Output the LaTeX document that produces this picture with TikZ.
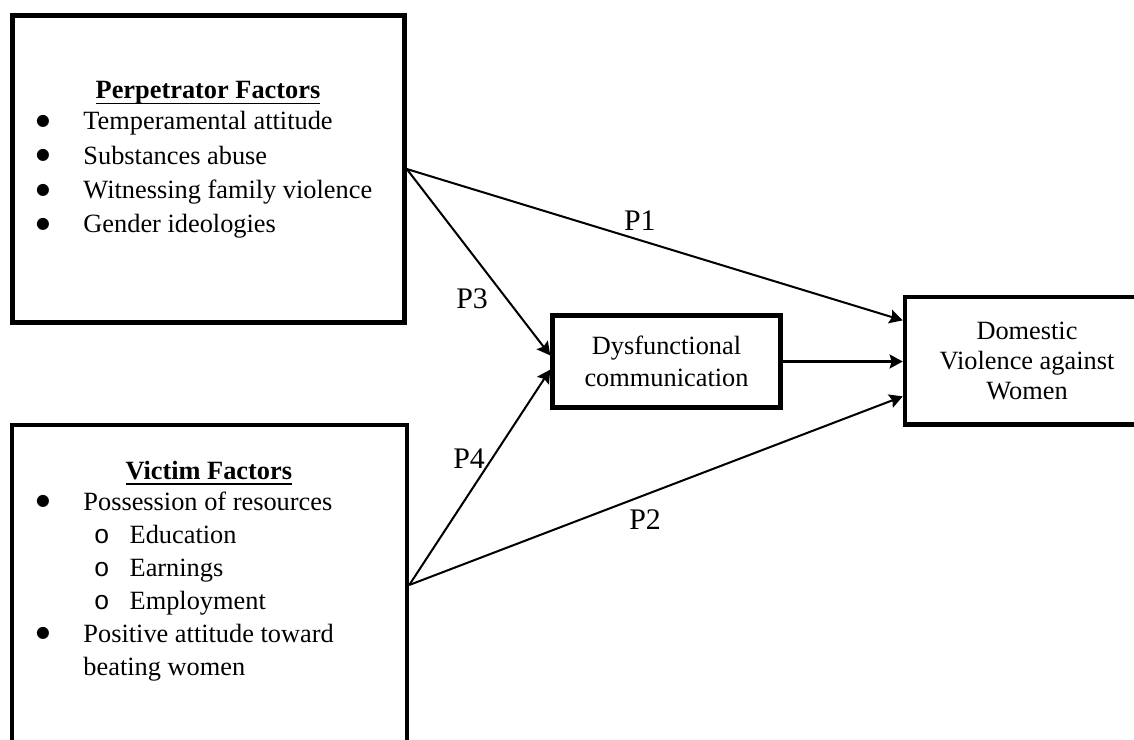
\documentclass[tikz,border=0pt]{standalone}
\usepackage{fontspec}
\setmainfont{Liberation Serif}
\newfontfamily\subbulletfont{Liberation Mono}
\newfontfamily\bulletfont{DejaVu Sans}
\usetikzlibrary{arrows.meta}

\newcommand{\bul}{\makebox[27pt][l]{\raisebox{2.5pt}{\bulletfont\fontsize{9}{10}\selectfont ●}}}
\newcommand{\subbul}{\hspace{5.9pt}\makebox[20.4pt][l]{\subbulletfont o}}
\newcommand{\ulhead}[1]{\setbox0\hbox{#1}\rlap{\rule[-3.4pt]{\wd0}{1pt}}\box0}

\begin{document}
\begin{tikzpicture}[
            x = 0.02cm, y = -0.02cm, % one unit = one pixel, y downwards
            > = {Stealth[length=7.5pt, width=8pt, inset=1.2pt]}, % arrow head style
            shorten > = 0pt,
            line width = 1.15pt % line style
        ]

        \tikzstyle{box}=[
            draw = black,
            line width = 2.6pt,
            rectangle,
            inner sep = 0pt
        ]
        \tikzstyle{heading}=[
            anchor = base,
            inner sep = 0pt,
            font = \fontsize{15}{18}\selectfont\bfseries
        ]
        \tikzstyle{items}=[
            anchor = base west,
            inner sep = 0pt
        ]
        \tikzstyle{plabel}=[
            inner sep = 0pt,
            font = \fontsize{17}{20}\selectfont
        ]

        \clip (0,0) rectangle (1134,740);

        % factor boxes
        \node[box, minimum width=7.84cm, minimum height=6.14cm] (P) at (208.5,169) {};
        \node[box, minimum width=7.90cm, minimum height=6.40cm] (V) at (209.5,585) {};
        \node[box, minimum width=4.56cm, minimum height=1.84cm, align=center,
              font=\fontsize{15}{18.1}\selectfont] (C) at (666.5,361.5)
              {Dysfunctional\\communication};
        \node[box, minimum width=4.88cm, minimum height=2.55cm, align=center,
              font=\fontsize{15}{17}\selectfont] (D) at (1027,360.75)
              {Domestic\\Violence against\\Women};

        % box contents
        \node[heading] (P-head) at (208,98.3) {\ulhead{Perpetrator Factors}};
        \node[items, font=\fontsize{15}{19.5}\selectfont] (P-list) at (35,130)
            {\begin{tabular}[t]{@{}l@{}l@{}}
                \bul & Temperamental attitude\\
                \bul & Substances abuse\\
                \bul & Witnessing family violence\\
                \bul & Gender ideologies
            \end{tabular}};

        \node[heading] (V-head) at (208.8,479) {\ulhead{Victim Factors}};
        \node[items, font=\fontsize{15}{18.8}\selectfont] (V-list) at (35,510)
            {\begin{tabular}[t]{@{}l@{}l@{}}
                \bul & Possession of resources\\
                & \subbul Education\\
                & \subbul Earnings\\
                & \subbul Employment\\
                \bul & Positive attitude toward\\
                & beating women
            \end{tabular}};

        % paths
        \path[->] (P.east) edge node[plabel, pos=0.47, above=5pt] {P1} (D.162.3);
        \path[->] (V.east) edge node[plabel, pos=0.478, below=8pt] {P2} (D.196);
        \path[->] (P.east) edge node[plabel, pos=0.695, left=10pt] {P3} (C.177.7);
        \path[->] (V.east) edge node[plabel, pos=0.587, left=3.5pt] {P4} (C.184.3);
        \path[->] (C) edge (C -| D.west);

    \end{tikzpicture}
\end{document}
